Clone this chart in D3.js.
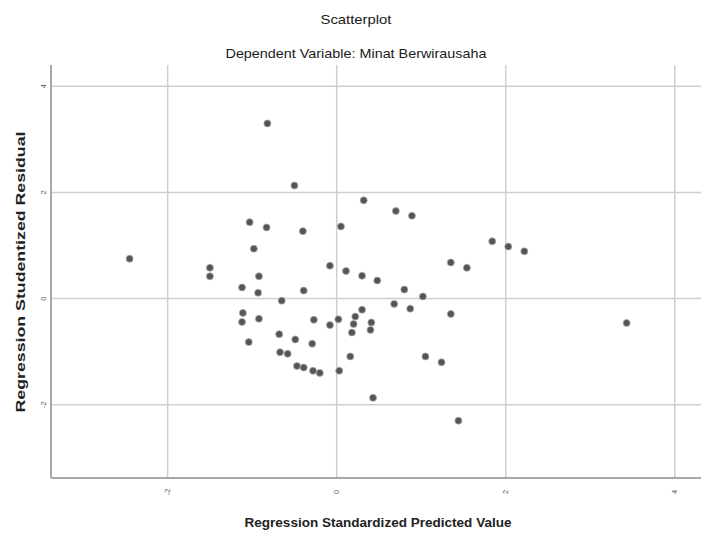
<!DOCTYPE html>
<html>
<head>
<meta charset="utf-8">
<script src="https://cdn.jsdelivr.net/npm/d3@7"></script>
<style>
  body { margin: 0; background: #fff; }
  text { font-family: "Liberation Sans", Arial, sans-serif; }
</style>
</head>
<body>
<div id="chart"></div>
<script>
// predicted (x) and studentized residual (y)
const predicted = [
  -2.45, -1.50, -1.50, -0.82, -0.50, -1.03, -0.83, -0.40, 0.05, -0.98,
  -0.08, 0.11, -0.92, -1.12, -0.93, -0.39, -0.65, -1.11, -1.12, -0.92,
  -1.04, -0.68, -0.49, -0.29, -0.67, -0.58, -0.47, -0.39, -0.28, -0.20,
  -0.27, -0.08, 0.02, 0.03, 0.16, 0.22, 0.20, 0.18, 0.30, 0.41,
  0.40, 0.43, 0.32, 0.70, 0.89, 1.84, 2.03, 2.22, 0.30, 0.48,
  1.35, 1.54, 0.80, 1.02, 0.68, 0.87, 1.35, 3.43, 1.05, 1.24, 1.44
];
const residual = [
  0.75, 0.58, 0.42, 3.30, 2.13, 1.44, 1.34, 1.27, 1.36, 0.94,
  0.62, 0.52, 0.42, 0.21, 0.11, 0.15, -0.04, -0.27, -0.44, -0.38,
  -0.82, -0.67, -0.77, -0.85, -1.01, -1.04, -1.27, -1.30, -1.36, -1.40,
  -0.40, -0.50, -0.39, -1.36, -1.09, -0.34, -0.48, -0.64, -0.21, -0.45,
  -0.59, -1.87, 1.85, 1.65, 1.56, 1.08, 0.98, 0.89, 0.43, 0.34,
  0.68, 0.58, 0.17, 0.04, -0.10, -0.19, -0.29, -0.46, -1.09, -1.20, -2.30
];
const xTicks = [-2, 0, 2, 4];
const yTicks = [-2, 0, 2, 4];

const width = 701, height = 533;
const plotL = 51, plotR = 701, plotT = 65, plotB = 478;

const svg = d3.select("#chart").append("svg")
  .attr("width", width)
  .attr("height", height);

const x = d3.scaleLinear().domain([-3.38, 4.31]).range([plotL, plotR]);
const y = d3.scaleLinear().domain([-3.38, 4.4]).range([plotB, plotT]);

// gridlines
svg.selectAll("line.gx").data(xTicks).enter().append("line")
  .attr("x1", d => x(d)).attr("x2", d => x(d))
  .attr("y1", plotT).attr("y2", plotB)
  .attr("stroke", "#cfcfcf").attr("stroke-width", 1.5);
svg.selectAll("line.gy").data(yTicks).enter().append("line")
  .attr("x1", plotL).attr("x2", plotR)
  .attr("y1", d => y(d)).attr("y2", d => y(d))
  .attr("stroke", "#cfcfcf").attr("stroke-width", 1.5);

// axis lines
svg.append("line").attr("x1", plotL).attr("x2", plotL).attr("y1", plotT).attr("y2", plotB)
  .attr("stroke", "#a8a8a8").attr("stroke-width", 2);
svg.append("line").attr("x1", plotL).attr("x2", plotR).attr("y1", plotB).attr("y2", plotB)
  .attr("stroke", "#a8a8a8").attr("stroke-width", 2);

// tick labels (tiny, rotated like in the source)
svg.selectAll("text.xt").data(xTicks).enter().append("text")
  .attr("transform", d => `translate(${x(d) + 2.5},492) rotate(-90)`)
  .attr("text-anchor", "middle")
  .attr("font-size", 7.5).attr("fill", "#555")
  .text(d => d);
svg.selectAll("text.yt").data(yTicks).enter().append("text")
  .attr("transform", d => `translate(45.5,${y(d)}) rotate(-90)`)
  .attr("text-anchor", "middle")
  .attr("font-size", 7.5).attr("fill", "#555")
  .text(d => d);

// points
const pts = predicted.map((d, i) => ({ x: d, y: residual[i] }));
svg.selectAll("circle").data(pts).enter().append("circle")
  .attr("cx", d => x(d.x))
  .attr("cy", d => y(d.y))
  .attr("r", 3.5)
  .attr("fill", "#555")
  .attr("stroke", "#aaa")
  .attr("stroke-width", 0.8);

// titles (source font is narrow, so squeeze to the measured widths)
svg.append("text").attr("x", 356).attr("y", 24).attr("text-anchor", "middle")
  .attr("font-size", 13).attr("fill", "#1a1a1a")
  .attr("textLength", 71).attr("lengthAdjust", "spacingAndGlyphs")
  .text("Scatterplot");
svg.append("text").attr("x", 356).attr("y", 58).attr("text-anchor", "middle")
  .attr("font-size", 13.5).attr("fill", "#1a1a1a")
  .attr("textLength", 261).attr("lengthAdjust", "spacingAndGlyphs")
  .text("Dependent Variable: Minat Berwirausaha");

svg.append("text").attr("x", 378).attr("y", 527).attr("text-anchor", "middle")
  .attr("font-size", 13.5).attr("font-weight", "bold").attr("fill", "#222")
  .attr("textLength", 267).attr("lengthAdjust", "spacingAndGlyphs")
  .text("Regression Standardized Predicted Value");
svg.append("text")
  .attr("transform", "translate(25,272) rotate(-90)")
  .attr("text-anchor", "middle")
  .attr("font-size", 13.5).attr("font-weight", "bold").attr("fill", "#222")
  .attr("textLength", 281).attr("lengthAdjust", "spacingAndGlyphs")
  .text("Regression Studentized Residual");
</script>
</body>
</html>
